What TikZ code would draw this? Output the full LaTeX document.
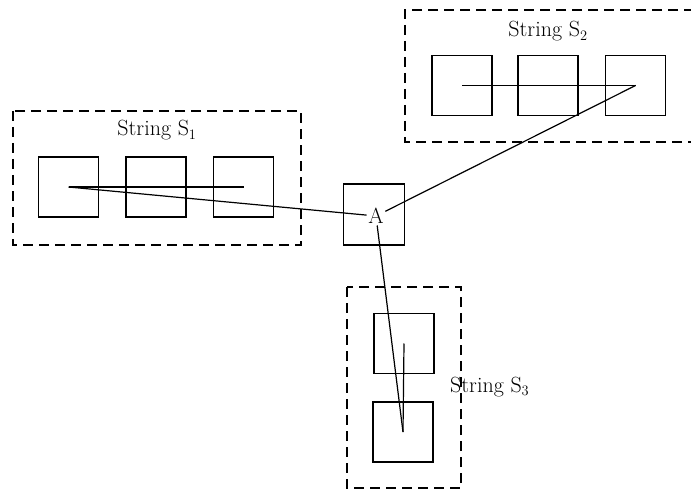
\documentclass[tikz,border=0pt]{standalone}
\usepackage{fontspec}
\begin{document}
\begin{tikzpicture}[x=1pt,y=-1pt,
  cell/.style={draw,line width=1.4pt,minimum size=60pt,inner sep=0pt},
  frame/.style={line width=1.3pt,dash pattern=on 10pt off 6pt},
  link/.style={line width=1.2pt},
  lbl/.style={font=\fontsize{22}{26}\selectfont,inner sep=0pt}]
\useasboundingbox (0,0) rectangle (691,492);
\begin{scope}
\clip (0,0) rectangle (691,492);
% frames
\draw[frame] (13,111) rectangle (301,245);
\draw[frame] (710,10) -- (405,10) -- (405,142) -- (710,142);
\draw[frame] (347,287) rectangle (461,488);
\end{scope}
% labels
\node[lbl,anchor=base] (l1) at (157,136) {String S$_1$};
\node[lbl,anchor=base] (l2) at (548,37) {String S$_2$};
\node[lbl,anchor=base west] (l3) at (450,392) {String S$_3$};
% string 1
\node[cell] (a1) at (68.5,187) {};
\node[cell] (a2) at (156,187) {};
\node[cell] (a3) at (243.5,187) {};
% string 2
\node[cell] (b1) at (462,85.5) {};
\node[cell] (b2) at (548,85.5) {};
\node[cell] (b3) at (635.5,85.5) {};
% string 3
\node[cell] (c1) at (404,343.5) {};
\node[cell] (c2) at (403,432) {};
% A
\node[cell,minimum size=61pt] (Abox) at (374,214.5) {};
\node[lbl,inner sep=1.5pt] (A) at (376,216) {A};
% connectors
\draw[link] (a1.center) -- (a3.center);
\draw[link] (a1.center) -- (A);
\draw[link] (b1.center) -- (b3.center);
\draw[link] (b3.center) -- (A);
\draw[link] (c1.center) -- (c2.center);
\draw[link] (A) -- (c2.center);
\end{tikzpicture}
\end{document}
